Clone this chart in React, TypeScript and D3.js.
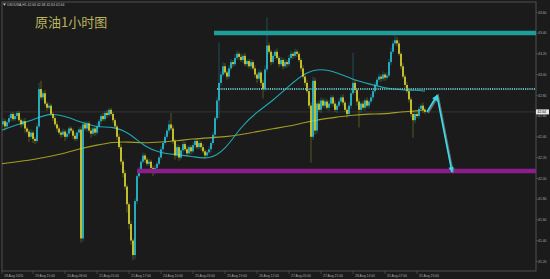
import React from 'react';
import * as d3 from 'd3';

const W = 550;
const H = 279;

const title = '原油1小时图';
const header = 'USOUSA,H1  42.66 42.68 42.63 42.64';

const firstOpen = 42.48;
const closes = [
  42.52, 42.55, 42.50, 42.54, 42.58, 42.62, 42.57, 42.60, 42.63, 42.56,
  42.52, 42.55, 42.48, 42.45, 42.40, 42.44, 42.38, 42.36, 42.50, 42.86,
  42.78, 42.82, 42.72, 42.68, 42.70, 42.62, 42.58, 42.52, 42.48, 42.44,
  42.42, 42.45, 42.40, 42.43, 42.48, 42.46, 42.41, 42.38, 42.44, 42.47,
  41.42, 42.52, 42.48, 42.53, 42.46, 42.43, 42.48, 42.44, 42.50, 42.55,
  42.60, 42.57, 42.63, 42.61, 42.66, 42.62, 42.56, 42.50, 42.40, 42.30,
  42.16, 42.05, 41.92, 41.75, 41.56, 41.40, 41.26, 41.78, 42.02, 42.08,
  42.16, 42.22, 42.18, 42.14, 42.16, 42.10, 42.06, 42.10, 42.14, 42.20,
  42.28, 42.34, 42.40, 42.46, 42.52, 42.48, 42.36, 42.22, 42.30, 42.20,
  42.27, 42.33, 42.28, 42.24, 42.30, 42.26, 42.32, 42.36, 42.30, 42.34,
  42.30, 42.26, 42.22, 42.25, 42.28, 42.34, 42.42, 42.58, 42.75, 42.92,
  43.00, 43.08, 43.02, 42.98, 43.06, 43.12, 43.10, 43.16, 43.20, 43.17,
  43.14, 43.18, 43.10, 43.13, 43.08, 43.12, 43.06, 43.00, 42.96, 43.02,
  42.92, 42.86, 43.05, 43.28, 43.22, 43.12, 43.18, 43.22, 43.16, 43.10,
  43.14, 43.08, 43.12, 43.10, 43.16, 43.20, 43.18, 43.22, 43.20, 43.14,
  43.06, 42.98, 42.92, 42.84, 42.70, 42.40, 42.94, 42.46, 42.72, 42.66,
  42.75, 42.70, 42.74, 42.68, 42.72, 42.78, 42.72, 42.66, 42.70, 42.74,
  42.78, 42.73, 42.66, 42.62, 42.70, 42.82, 42.92, 42.85, 42.74, 42.66,
  42.72, 42.68, 42.75, 42.70, 42.74, 42.78, 42.84, 42.90, 42.95, 42.98,
  42.96, 43.00, 42.97, 42.99, 43.12, 43.22, 43.30, 43.33, 43.30, 43.20,
  43.08, 42.98, 42.90, 42.84, 42.76, 42.62, 42.56, 42.62, 42.60, 42.67,
  42.70, 42.66, 42.64,
];

// wick lengths above / below the body, in cents
const upperWicks = [
  2, 3, 2, 2, 3, 2, 2, 3, 2, 2,
  2, 2, 3, 2, 2, 3, 2, 2, 3, 6,
  8, 2, 3, 2, 3, 2, 2, 2, 3, 2,
  2, 3, 2, 3, 2, 2, 2, 3, 2, 2,
  3, 2, 3, 2, 2, 3, 2, 2, 3, 2,
  2, 3, 2, 3, 2, 2, 2, 2, 2, 3,
  3, 2, 3, 2, 2, 3, 2, 3, 2, 3,
  2, 3, 2, 2, 3, 2, 2, 3, 2, 2,
  3, 2, 3, 2, 4, 11, 3, 2, 3, 2,
  2, 3, 2, 3, 2, 2, 3, 2, 2, 3,
  2, 3, 2, 2, 3, 2, 3, 2, 3, 39,
  3, 4, 3, 2, 3, 3, 2, 4, 3, 2,
  3, 2, 3, 2, 2, 3, 2, 3, 2, 3,
  2, 3, 4, 27, 3, 2, 3, 2, 3, 2,
  3, 2, 3, 2, 3, 3, 2, 3, 2, 2,
  2, 3, 2, 3, 2, 3, 4, 3, 2, 3,
  3, 2, 3, 2, 3, 2, 2, 3, 2, 3,
  2, 3, 2, 2, 3, 4, 29, 3, 2, 3,
  2, 3, 2, 3, 2, 3, 2, 3, 2, 3,
  2, 3, 2, 3, 3, 4, 3, 5, 3, 3,
  2, 3, 2, 3, 2, 2, 3, 2, 3, 2,
  2, 3, 2,
];
const lowerWicks = [
  3, 2, 4, 2, 2, 3, 2, 2, 3, 2,
  3, 2, 4, 2, 5, 2, 4, 3, 2, 2,
  2, 3, 2, 3, 2, 2, 3, 2, 3, 2,
  3, 2, 4, 2, 3, 2, 3, 2, 2, 3,
  4, 3, 2, 3, 2, 4, 2, 3, 2, 2,
  3, 2, 2, 3, 2, 2, 3, 2, 3, 2,
  3, 4, 3, 8, 5, 4, 5, 4, 3, 2,
  3, 2, 3, 2, 2, 3, 4, 2, 3, 2,
  2, 3, 2, 2, 3, 2, 3, 4, 2, 3,
  2, 3, 2, 3, 2, 3, 2, 3, 2, 2,
  3, 2, 3, 2, 2, 3, 2, 3, 2, 17,
  3, 2, 2, 3, 2, 2, 3, 2, 2, 3,
  2, 3, 2, 3, 2, 3, 2, 3, 4, 2,
  3, 9, 2, 3, 2, 3, 2, 3, 2, 3,
  2, 3, 2, 3, 2, 2, 3, 2, 3, 2,
  3, 2, 3, 2, 3, 25, 3, 4, 3, 2,
  3, 2, 3, 2, 3, 2, 3, 2, 3, 2,
  2, 3, 2, 4, 2, 3, 2, 3, 4, 17,
  3, 2, 3, 2, 3, 2, 3, 2, 3, 2,
  3, 2, 3, 2, 2, 3, 2, 2, 3, 2,
  3, 2, 3, 2, 3, 3, 17, 3, 2, 3,
  2, 3, 2,
];

// moving averages sampled at bar indices
const maIndex = [0, 8, 16, 24, 32, 40, 48, 56, 64, 72, 80, 88, 96, 104, 112, 120, 128, 136, 144, 152, 160, 168, 176, 184, 192, 200, 208, 212];
const maFast = [42.46, 42.52, 42.56, 42.63, 42.60, 42.54, 42.49, 42.50, 42.44, 42.30, 42.24, 42.23, 42.21, 42.18, 42.27, 42.50, 42.64, 42.75, 42.89, 43.02, 43.06, 43.02, 42.95, 42.91, 42.87, 42.85, 42.85, 42.84];
const maSlow = [42.14, 42.16, 42.18, 42.21, 42.24, 42.29, 42.32, 42.35, 42.35, 42.34, 42.35, 42.36, 42.38, 42.39, 42.40, 42.42, 42.45, 42.48, 42.50, 42.54, 42.57, 42.59, 42.61, 42.62, 42.62, 42.64, 42.65, 42.66];

const tickIndex = [0, 16, 32, 48, 64, 80, 96, 112, 128, 144, 160, 176, 192, 208];
const tickLabels = ['18 Aug 2020', '19 Aug 15:00', '20 Aug 08:00', '21 Aug 01:00', '21 Aug 17:00', '24 Aug 10:00', '25 Aug 03:00', '25 Aug 19:00', '26 Aug 12:00', '27 Aug 05:00', '27 Aug 21:00', '28 Aug 14:00', '31 Aug 07:00', '31 Aug 23:00'];
const priceTicks = [43.6, 43.4, 43.2, 43.0, 42.8, 42.6, 42.4, 42.2, 42.0, 41.8, 41.6, 41.4, 41.2];

const resistance = { price: 43.40, from: 106.5 };
const midLevel = { price: 42.86, from: 108 };
const support = { price: 42.07, from: 68 };
const lastPrice = 42.64;
const arrowPoints: [number, number][] = [[213, 42.64], [218, 42.80], [225.5, 42.06]];

const BG = '#1b1b1b';
const UP = '#2cc6da';
const DOWN = '#e4de2e';

export default function App() {
  const left = 2, right = 536, top = 2, bottom = 271;
  const x = d3.scaleLinear().domain([0, 212]).range([1, 425]);
  const y = d3.scaleLinear().domain([41.2, 43.6]).range([261.3, 12.3]);

  const bars = closes.map((c, i) => {
    const o = i === 0 ? firstOpen : closes[i - 1];
    const hi = Math.max(o, c) + upperWicks[i] / 100;
    const lo = Math.min(o, c) - lowerWicks[i] / 100;
    return { i, o, c, hi, lo };
  });

  const maLine = d3
    .line<number>()
    .x((_, k) => x(maIndex[k]))
    .y((v) => y(v))
    .curve(d3.curveBasis);

  const arrowLine = d3
    .line<[number, number]>()
    .x((d) => x(d[0]))
    .y((d) => y(d[1]));

  const headAt = (p: [number, number], q: [number, number], color: string, dx = 0, dy = 0) => {
    const x1 = x(p[0]), y1 = y(p[1]), x2 = x(q[0]), y2 = y(q[1]);
    const ang = Math.atan2(y2 - y1, x2 - x1);
    const L = 5, Wd = 2.6;
    const bx = x2 - L * Math.cos(ang), by = y2 - L * Math.sin(ang);
    const nx = -Math.sin(ang), ny = Math.cos(ang);
    const pts = [
      [x2 + dx, y2 + dy],
      [bx + nx * Wd + dx, by + ny * Wd + dy],
      [bx - nx * Wd + dx, by - ny * Wd + dy],
    ];
    return <polygon points={pts.map((p) => p.join(',')).join(' ')} fill={color} />;
  };

  const font = 'Liberation Sans, Arial, sans-serif';

  return (
    <svg width={W} height={H} style={{ position: 'absolute', left: 0, top: 0, background: BG }}>
      <defs>
        <clipPath id="plot">
          <rect x={left} y={top} width={right - left} height={bottom - top} />
        </clipPath>
      </defs>
      <rect x={0} y={0} width={W} height={H} fill={BG} />

      {/* frame */}
      <rect x={left} y={top} width={right - left} height={bottom - top} fill="none" stroke="#505050" strokeWidth={1} />

      <g clipPath="url(#plot)">
        {/* last price line */}
        <line x1={left} x2={right} y1={y(lastPrice)} y2={y(lastPrice)} stroke="#343434" strokeWidth={1} />

        {/* moving averages */}
        <path d={maLine(maSlow) || ''} fill="none" stroke="#a39d22" strokeWidth={1.1} />
        <path d={maLine(maFast) || ''} fill="none" stroke="#1fa9b6" strokeWidth={1.1} />

        {/* candles */}
        {bars.map((b) => {
          const col = b.c >= b.o ? UP : DOWN;
          const cx = x(b.i);
          const yTop = y(Math.max(b.o, b.c));
          const yBot = y(Math.min(b.o, b.c));
          return (
            <g key={b.i}>
              <line x1={cx} x2={cx} y1={y(b.hi)} y2={y(b.lo)} stroke={col} strokeOpacity={0.4} strokeWidth={0.8} />
              <rect x={cx - 0.8} y={yTop} width={1.6} height={Math.max(0.8, yBot - yTop)} fill={col} />
            </g>
          );
        })}

        {/* horizontal levels */}
        <line x1={x(resistance.from)} x2={right} y1={y(resistance.price)} y2={y(resistance.price)} stroke="#1e9e99" strokeWidth={4.5} />
        <line x1={x(midLevel.from)} x2={right} y1={y(midLevel.price)} y2={y(midLevel.price)} stroke="#5fb4b8" strokeWidth={2} strokeDasharray="1.2 1" />
        <line x1={x(support.from)} x2={right} y1={y(support.price)} y2={y(support.price)} stroke="#8c1e8c" strokeWidth={4.5} />

        {/* arrow with shadow */}
        <path d={arrowLine(arrowPoints) || ''} fill="none" stroke="#6a6a6a" strokeWidth={2} transform="translate(1,1)" />
        {headAt(arrowPoints[0], arrowPoints[1], '#6a6a6a', 1, 1)}
        {headAt(arrowPoints[1], arrowPoints[2], '#6a6a6a', 1, 1)}
        <path d={arrowLine(arrowPoints) || ''} fill="none" stroke="#34e0ee" strokeWidth={1.6} strokeLinejoin="round" />
        {headAt(arrowPoints[0], arrowPoints[1], '#34e0ee')}
        {headAt(arrowPoints[1], arrowPoints[2], '#34e0ee')}
      </g>

      {/* header & title */}
      <polygon points="3,3.5 6,3.5 4.5,5.8" fill="#cccccc" />
      <text x={7} y={6} fontFamily={font} fontSize={3.4} fill="#c8c8c8">{header}</text>
      <text x={35} y={27} fontFamily="Noto Sans CJK SC, sans-serif" fontSize={13} fill="#b9b35c">{title}</text>

      {/* y axis */}
      {priceTicks.map((p) => (
        <g key={p}>
          <line x1={right} x2={right + 2} y1={y(p)} y2={y(p)} stroke="#606060" strokeWidth={0.6} />
          <text x={538} y={y(p) + 1.2} fontFamily={font} fontSize={3.4} fill="#a8a8a8">{p.toFixed(2)}</text>
        </g>
      ))}
      <rect x={536} y={y(lastPrice) - 2.5} width={13} height={5} fill="#e6e6e6" />
      <text x={537.5} y={y(lastPrice) + 1.2} fontFamily={font} fontSize={3.4} fill="#111">{lastPrice.toFixed(2)}</text>

      {/* x axis */}
      {tickIndex.map((t, k) => {
        const tx = Math.max(left, x(t));
        return (
          <g key={t}>
            <line x1={tx} x2={tx} y1={bottom} y2={bottom + 3} stroke="#606060" strokeWidth={0.6} />
            <text x={tx + 2} y={bottom + 5.5} fontFamily={font} fontSize={3.4} fill="#a8a8a8">{tickLabels[k]}</text>
          </g>
        );
      })}
    </svg>
  );
}
